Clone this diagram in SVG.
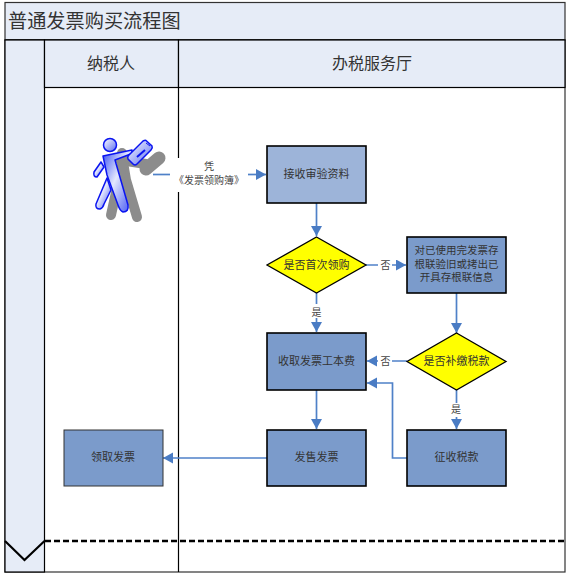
<svg xmlns="http://www.w3.org/2000/svg" width="569" height="574" viewBox="0 0 569 574">
<defs>
<marker id="a" markerUnits="userSpaceOnUse" markerWidth="12" markerHeight="12" refX="10" refY="5.5" orient="auto"><path d="M0,0 L10,5.5 L0,11 Z" fill="#4a7cc4"/></marker>
<linearGradient id="b" x1="0" y1="0" x2="1" y2="1"><stop offset="0" stop-color="#3a50f4"/><stop offset="0.45" stop-color="#e4e8fd"/><stop offset="1" stop-color="#3f52f2"/></linearGradient>
<linearGradient id="h" x1="0" y1="0" x2="1" y2="1"><stop offset="0" stop-color="#ffffff"/><stop offset="1" stop-color="#5a6cf2"/></linearGradient>
</defs>
<style>
text{font-family:"Noto Sans CJK SC","Liberation Sans",sans-serif;text-anchor:middle;fill:#333}
.hd{fill:#e6ecf7;stroke:#000;stroke-width:1.2}
.n{fill:#7b9bcb;stroke:#000;stroke-width:1.6}
.d{fill:#ffff00;stroke:#000;stroke-width:1.3}
.c{fill:none;stroke:#4f81c8;stroke-width:1.7;marker-end:url(#a)}
.t{font-size:11px}
.m{font-size:10.500px}
.l{font-size:10px;fill:#444}
.s{font-size:16px;fill:#333}
.f{fill:url(#b);stroke:#0a14f0;stroke-width:1.5;stroke-linejoin:round}
.g{fill:none;stroke:#8c8c8c;stroke-linecap:round;stroke-linejoin:round}
</style>
<rect width="569" height="574" fill="#fff"/>
<g id="frame">
<rect x="5" y="40" width="560" height="532" fill="#fff" stroke="#333" stroke-width="1.2"/>
<rect x="5" y="2.500" width="560" height="37.500" fill="#e6ecf7" stroke="#333" stroke-width="1.2"/>
<line x1="5" y1="40" x2="565" y2="40" stroke="#333" stroke-width="2"/>
<text x="8" y="28" style="text-anchor:start;font-size:19.200px">普通发票购买流程图</text>
<rect x="5" y="40" width="39.500" height="532" class="hd"/>
<rect x="44.500" y="40" width="134" height="47.500" class="hd"/>
<rect x="178.500" y="40" width="386.500" height="47.500" class="hd"/>
<text x="111" y="69" class="s">纳税人</text>
<text x="372" y="69" class="s">办税服务厅</text>
<line x1="178.500" y1="87" x2="178.500" y2="572" stroke="#000" stroke-width="1.200"/>
<line x1="45" y1="541" x2="564" y2="541" stroke="#000" stroke-width="2.500" stroke-dasharray="6 3"/>
<path d="M5,541 L24.500,560 L44.500,541" fill="none" stroke="#000" stroke-width="2.200"/>
</g>
<g id="figure">
<g class="g">
<circle cx="122" cy="153" r="5" fill="#8c8c8c" stroke="none"/>
<path d="M120,160 L146,164" stroke-width="10"/>
<path d="M123,162 L126,180 L137,217" stroke-width="10"/>
<path d="M122,165 L111,215" stroke-width="10"/>
<path d="M146,169 L159,158" stroke-width="13"/>
</g>
<path class="f" d="M103,156 L132,150 L132,153.500 L115,160 L128,205 Q129,212 123,212 Q120,211 118,205 L107,175 Z"/>
<circle cx="110" cy="145" r="6.500" fill="url(#h)" stroke="#0a14f0" stroke-width="1.500"/>
<path d="M146,140.500 L152,146 Q153,148 151,150 L137,164 Q135,166 133,164 L128,159 Q127,157 129,155 L143,141 Q145,140 146,140.500 Z" fill="url(#h)" stroke="#0a14f0" stroke-width="1.500"/>
<path d="M137,157 L145,150" stroke="#0a14f0" stroke-width="2"/>
<path d="M146,143 L150,146" stroke="#0a14f0" stroke-width="1"/>
<path class="f" d="M101,162 L94,172 Q93,177 97,177 L104,167 Z"/>
<path class="f" d="M107,178 L96,204 Q95,209 100,209 Q103,208 104,204 L111,190 Z"/>
</g>
<g id="connectors">
<rect x="170" y="158" width="70" height="34" fill="#fff"/>
<path d="M153,174.500 H170" fill="none" stroke="#4f81c8" stroke-width="1.700"/>
<path class="c" d="M248,174.500 H266"/>
<path class="c" d="M316.500,203 V236"/>
<path class="c" d="M316.500,293 V332"/>
<path class="c" d="M366,265 H406"/>
<path class="c" d="M456.500,293 V333"/>
<path class="c" d="M407,361 H367"/>
<path class="c" d="M456.500,390 V429"/>
<path class="c" d="M316.500,390 V429"/>
<path class="c" d="M407,458 H392.500 V383 H367"/>
<path class="c" d="M267,458 H163"/>
<rect x="306" y="304" width="20" height="14" fill="#fff"/>
<rect x="378" y="258" width="14" height="14" fill="#fff"/>
<rect x="378" y="354" width="14" height="14" fill="#fff"/>
<rect x="447" y="403" width="18" height="14" fill="#fff"/>
<text x="209" y="170" class="l">凭</text>
<text x="209" y="184" class="l">《发票领购簿》</text>
<text x="316.500" y="316" class="l">是</text>
<text x="385.500" y="269" class="l">否</text>
<text x="385.500" y="365" class="l">否</text>
<text x="456" y="413" class="l">是</text>
</g>
<g id="n1"><rect x="267" y="146" width="99" height="57" fill="#9db4d9" stroke="#000" stroke-width="1.600"/><text x="316.500" y="178" class="t">接收审验资料</text></g>
<g id="n2"><path class="d" d="M316.500,237 L366,265 L316.500,293 L267,265 Z"/><text x="316.500" y="269" class="t">是否首次领购</text></g>
<g id="n3"><rect x="407" y="237" width="99" height="56" class="n"/><text x="456.500" y="254" class="m">对已使用完发票存</text><text x="456.500" y="267.500" class="m">根联验旧或拷出已</text><text x="456.500" y="281" class="m">开具存根联信息</text></g>
<g id="n4"><rect x="267" y="333" width="99" height="57" class="n"/><text x="316.500" y="365" class="t">收取发票工本费</text></g>
<g id="n5"><path class="d" d="M456.500,333 L506,361.500 L456.500,390 L407,361.500 Z"/><text x="456.500" y="365" class="t">是否补缴税款</text></g>
<g id="n6"><rect x="267" y="430" width="99" height="56" class="n"/><text x="316.500" y="461" class="t">发售发票</text></g>
<g id="n7"><rect x="407" y="430" width="99" height="56" class="n"/><text x="456.500" y="461" class="t">征收税款</text></g>
<g id="n8"><rect x="64" y="430" width="99" height="56" fill="#7b9bcb" stroke="#333" stroke-width="1"/><text x="113" y="461" class="t">领取发票</text></g>
</svg>
